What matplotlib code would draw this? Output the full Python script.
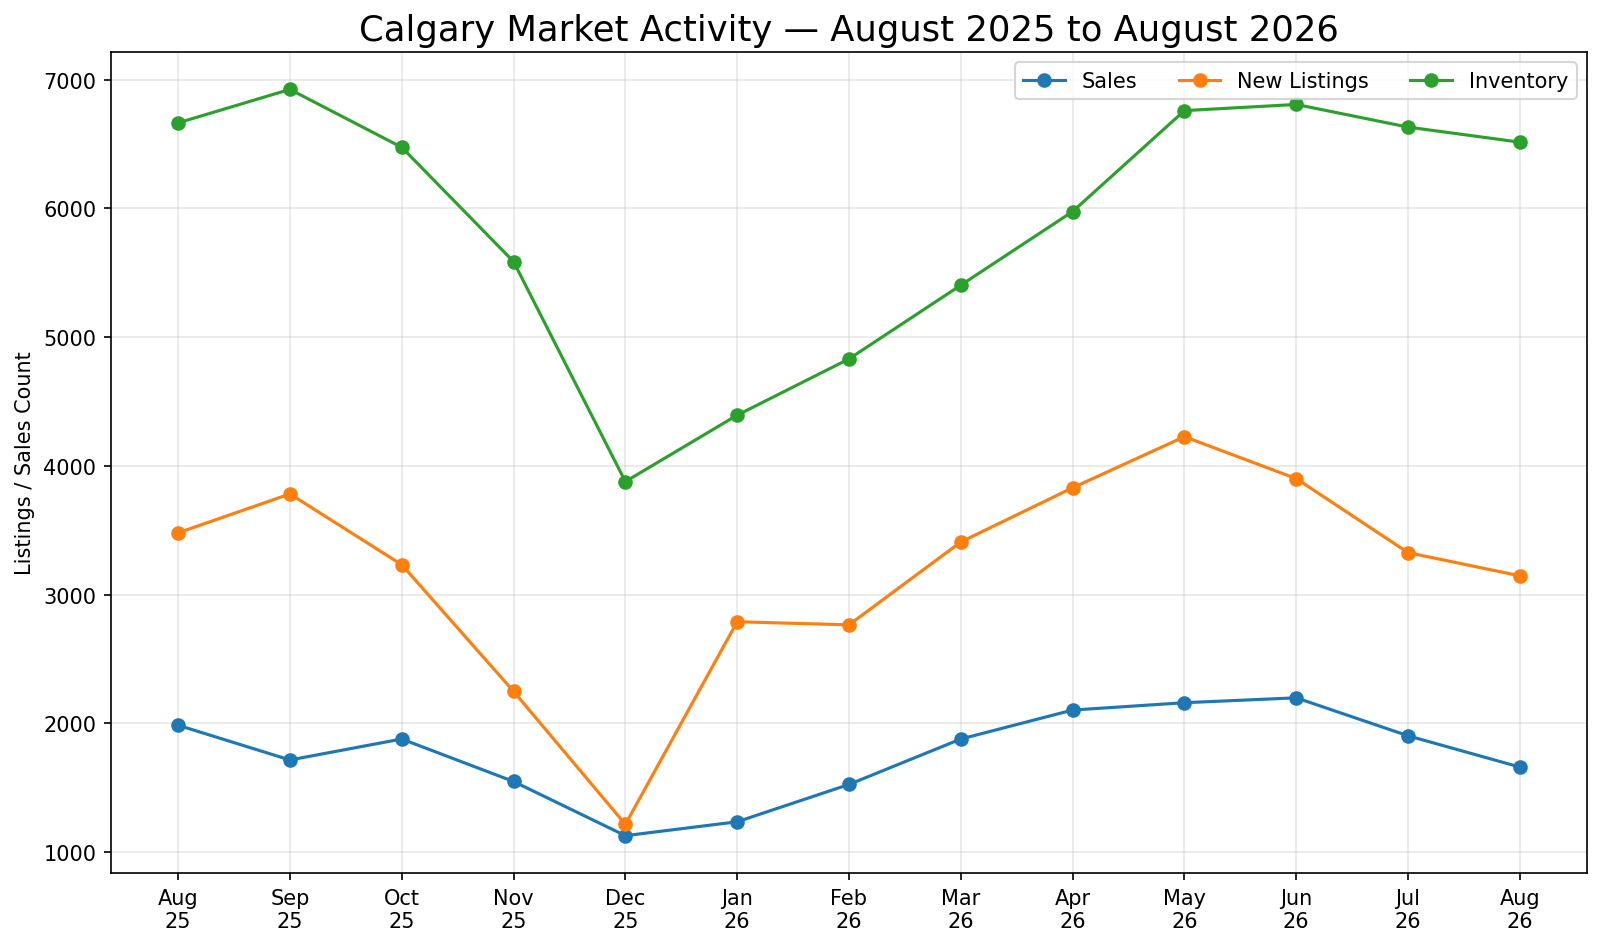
import numpy as np
import matplotlib
matplotlib.use('Agg')
import matplotlib.pyplot as plt

months = ['Aug\n25', 'Sep\n25', 'Oct\n25', 'Nov\n25', 'Dec\n25', 'Jan\n26', 'Feb\n26',
          'Mar\n26', 'Apr\n26', 'May\n26', 'Jun\n26', 'Jul\n26', 'Aug\n26']
sales = [1985, 1715, 1878, 1548, 1127, 1235, 1525, 1878, 2103, 2160, 2198, 1903, 1660]
new_listings = [3480, 3782, 3232, 2248, 1215, 2789, 2765, 3409, 3830, 4227, 3901, 3326, 3146]
inventory = [6665, 6925, 6475, 5587, 3878, 4394, 4831, 5404, 5976, 6760, 6808, 6632, 6515]

if __name__ == '__main__':
    x = np.arange(len(months))

    fig, ax = plt.subplots(figsize=(10.68, 6.313), dpi=150)
    ax.plot(x, sales, marker='o', label='Sales')
    ax.plot(x, new_listings, marker='o', label='New Listings')
    ax.plot(x, inventory, marker='o', label='Inventory')
    ax.set_xticks(x)
    ax.set_xticklabels(months)
    ax.set_ylabel('Listings / Sales Count')
    ax.set_title('Calgary Market Activity \u2014 August 2025 to August 2026', fontsize=17)
    ax.grid(alpha=0.3)
    ax.legend(loc='upper right', ncol=3)
    fig.subplots_adjust(left=0.0693, right=0.9906, top=0.944, bottom=0.0771)
    fig.savefig('out.png', dpi=150)
